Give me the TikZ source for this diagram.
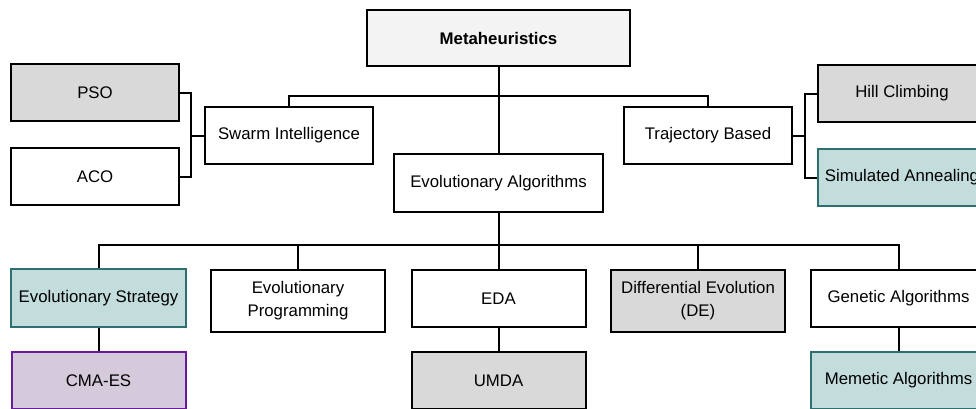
\documentclass[tikz,border=0pt]{standalone}
\usepackage{fontspec}
\setmainfont{Liberation Sans}
\definecolor{metafill}{HTML}{F3F3F3}
\definecolor{grayfill}{HTML}{D9D9D9}
\definecolor{tealfill}{HTML}{C3DDDD}
\definecolor{tealline}{HTML}{2E6F6F}
\definecolor{purpfill}{HTML}{D5CADB}
\definecolor{purpline}{HTML}{6A1B9A}
\tikzset{
  box/.style={draw=black, line width=2pt, rectangle, minimum width=168pt, minimum height=57pt,
    inner sep=2pt, align=center, font=\fontsize{16.8}{23}\selectfont, fill=white},
  graybox/.style={box, fill=grayfill},
  tealbox/.style={box, draw=tealline, fill=tealfill},
  purpbox/.style={box, draw=purpline, fill=purpfill},
  link/.style={line width=2pt, draw=black}
}
\begin{document}
\begin{tikzpicture}[x=1pt,y=-1pt]
\useasboundingbox (0,0) rectangle (976,408);
\clip (0,0) rectangle (976,408);
% top level
\node[box, fill=metafill, minimum width=263pt, minimum height=56pt, font=\fontsize{16.8}{20}\selectfont\bfseries] (meta) at (498.5,38) {Metaheuristics};
% second level
\node[box] (swarm) at (289,135.5) {Swarm Intelligence};
\node[box] (traj) at (708,135.5) {Trajectory Based};
\node[box, minimum width=209pt, minimum height=58pt] (ea) at (498.5,183) {Evolutionary Algorithms};
% swarm children
\node[graybox] (pso) at (95,92.5) {PSO};
\node[box] (aco) at (95,176.5) {ACO};
% trajectory children
\node[graybox] (hill) at (902,93.5) {Hill Climbing};
\node[tealbox] (sa) at (902,177.5) {Simulated Annealing};
% EA children
\node[tealbox, minimum width=175pt, minimum height=58pt] (es) at (98.5,298) {Evolutionary Strategy};
\node[box, minimum width=174pt, minimum height=62pt] (ep) at (298,301) {Evolutionary\\Programming};
\node[box, minimum width=174pt] (eda) at (498.5,298.5) {EDA};
\node[graybox, minimum width=174pt, minimum height=62pt] (de) at (698,301) {Differential Evolution\\(DE)};
\node[box, minimum width=175pt] (ga) at (898.5,298.5) {Genetic Algorithms};
% third row
\node[purpbox, minimum width=174pt] (cma) at (98.5,380.5) {CMA-ES};
\node[graybox, minimum width=174pt] (umda) at (498.5,380.5) {UMDA};
\node[tealbox, minimum width=175pt] (ma) at (898.5,380.5) {Memetic Algorithms};
% bus coordinates
\coordinate (topbus) at (498.5,96);
\coordinate (sbus) at (191,135.5);
\coordinate (tbus) at (805,135.5);
\coordinate (bbus) at (498.5,245);
% connectors
\draw[link] (meta.south) -- (ea.north);
\draw[link] (swarm.north) |- (topbus) -| (traj.north);
\draw[link] (pso.east) -| (sbus) |- (aco.east);
\draw[link] (sbus) -- (swarm.west);
\draw[link] (hill.west) -| (tbus) |- (sa.west);
\draw[link] (tbus) -- (traj.east);
\draw[link] (ea.south) -- (eda.north);
\draw[link] (es.north) |- (bbus) -| (ga.north);
\draw[link] (ep.north) |- (bbus);
\draw[link] (de.north) |- (bbus);
\draw[link] (es.south) -- (cma.north);
\draw[link] (eda.south) -- (umda.north);
\draw[link] (ga.south) -- (ma.north);
\end{tikzpicture}
\end{document}
